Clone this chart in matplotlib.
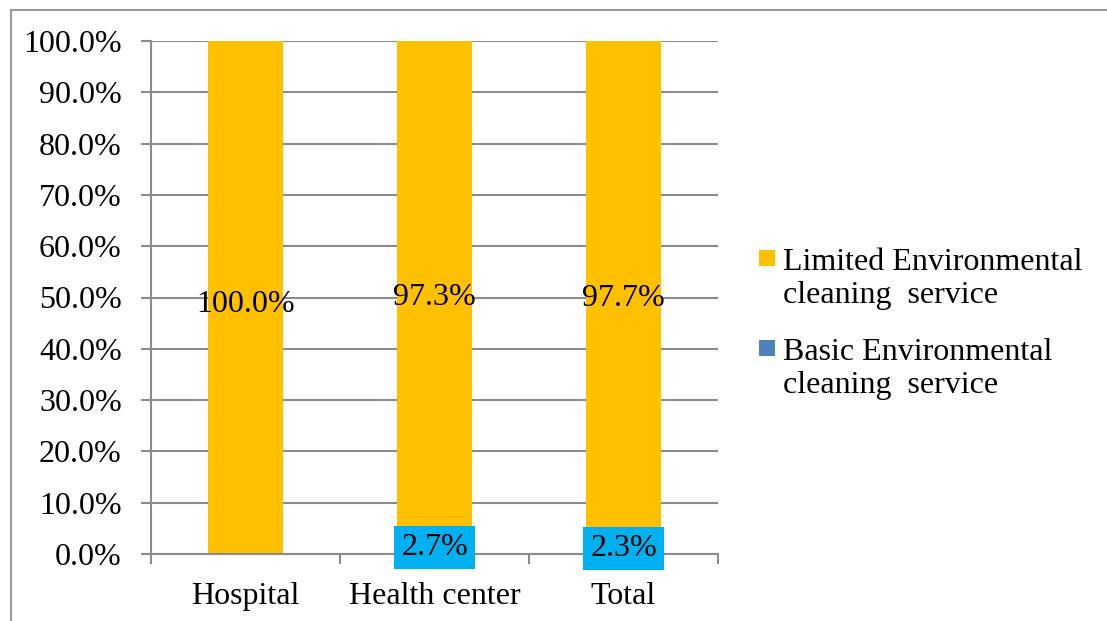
import matplotlib
matplotlib.use('Agg')
import matplotlib.pyplot as plt
from matplotlib.lines import Line2D
from matplotlib.patches import Rectangle
from matplotlib.ticker import FuncFormatter, FixedLocator

plt.rcParams['font.family'] = ['Liberation Serif', 'DejaVu Serif']

categories = ['Hospital', 'Health center', 'Total']
limited = [100.0, 97.3, 97.7]
basic = [0.0, 2.7, 2.3]
series_names = ['Limited Environmental\ncleaning  service', 'Basic Environmental\ncleaning  service']

orange = '#FFC000'
blue = '#4F81BD'
cyan = '#00B0F0'
grey = '#8C8C8C'
fs = 23

fig = plt.figure(figsize=(11.07, 6.21), dpi=100)
ax = fig.add_axes([151/1107, 1-554/621, (718-151)/1107, (554-41)/621])

x = list(range(len(categories)))
b_basic = ax.bar(x, basic, width=0.4, color=blue, zorder=2)
b_lim = ax.bar(x, limited, width=0.4, bottom=basic, color=orange, zorder=2)

lab = ax.bar_label(b_lim, labels=[f'{v:.1f}%' for v in limited], label_type='center', fontsize=fs)
for t in lab:
    t.xyann = (0, -5)
ax.bar_label(b_basic, labels=['' if v == 0 else f'{v:.1f}%' for v in basic], label_type='center',
             fontsize=fs, bbox=dict(boxstyle='square,pad=0.22', fc=cyan, ec='none'))

ax.set_xlim(-0.5, 2.5)
ax.set_ylim(0, 100)
ax.set_yticks(range(0, 101, 10))
ax.yaxis.set_major_formatter(FuncFormatter(lambda v, p: f'{v:.1f}%'))
ax.set_xticks(x)
ax.set_xticklabels(categories)
ax.xaxis.set_minor_locator(FixedLocator([-0.5, 0.5, 1.5, 2.5]))
ax.tick_params(axis='x', which='major', length=0, pad=20, labelsize=fs)
ax.tick_params(axis='x', which='minor', length=7, width=1.5, color=grey)
ax.tick_params(axis='y', length=7, width=1.5, color=grey, pad=14, labelsize=fs)
ax.grid(axis='y', color=grey, lw=1.5, zorder=0)
ax.set_axisbelow(True)
for s in ['top', 'right']:
    ax.spines[s].set_visible(False)
for s in ['left', 'bottom']:
    ax.spines[s].set_color(grey)
    ax.spines[s].set_linewidth(1.5)

# legend, handle next to first line of each label
for i, (name, col) in enumerate(zip(series_names, [orange, blue])):
    y_first = 266 + i * 90
    fig.add_artist(Rectangle((759/1107, 1 - y_first/621), 16/1107, 16/621, transform=fig.transFigure,
                             color=col, lw=0))
    # multi-line text anchored at baseline of its last line
    fig.text(783/1107, 1 - (y_first + 37)/621, name, fontsize=fs, va='baseline', ha='left',
             linespacing=1.17, transform=fig.transFigure)

# outer frame (top and left edges only visible)
fig.add_artist(Line2D([10.5/1107, 1], [1-9.5/621, 1-9.5/621], color='#999999', lw=1.5))
fig.add_artist(Line2D([10.5/1107, 10.5/1107], [0, 1-9.5/621], color='#999999', lw=1.5))

fig.savefig('out.png', dpi=100)
